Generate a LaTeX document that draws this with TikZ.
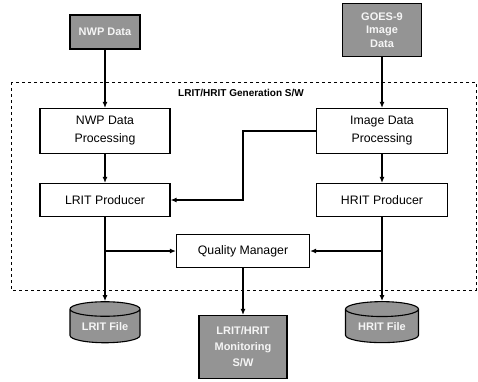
\documentclass[tikz,border=0pt]{standalone}
\usepackage{fontspec}
\setmainfont{Liberation Sans}
\usepackage{tikz}
\usetikzlibrary{arrows.meta,positioning,shapes.geometric}

\begin{document}
\begin{tikzpicture}[
  x=1pt, y=-1pt,
  proc/.style={draw, line width=1.1pt, align=center, inner sep=1pt,
               font=\fontsize{12.3}{18}\selectfont},
  ext/.style={draw, line width=1.1pt, fill=black!42, text=black!4, align=center,
              inner sep=1pt, font=\fontsize{11}{14}\selectfont\bfseries},
  store/.style={ext, cylinder, shape border rotate=90, aspect=0.3},
  arrow/.style={-{Latex[length=6pt,width=5pt]}, line width=1.8pt}
]
\useasboundingbox (0,0) rectangle (478,381);

% Generation S/W frame
\draw[dashed, line width=0.8pt] (11,82) rectangle (476,290);
\node[font=\fontsize{10}{11}\selectfont\bfseries] (title) at (241,93) {LRIT/HRIT Generation S/W};

% External inputs
\node[ext, minimum width=70pt, minimum height=34pt] (nwp) at (105,32) {NWP Data};
\node[ext, minimum width=79pt, minimum height=53pt, font=\fontsize{11}{13.5}\selectfont\bfseries] (goes) at (382,30) {GOES-9\\Image\\Data};

% Processing
\node[proc, minimum width=130pt, minimum height=45pt] (nwpproc) at (105,131) {NWP Data\\Processing};
\node[proc, minimum width=131pt, minimum height=45pt] (imgproc) at (382,131) {Image Data\\Processing};

% Producers
\node[proc, minimum width=130pt, minimum height=33pt] (lrit) at (105,200) {LRIT Producer};
\node[proc, minimum width=131pt, minimum height=33pt] (hrit) at (382,200) {HRIT Producer};

% Quality manager
\node[proc, minimum width=133pt, minimum height=33pt] (qm) at (243,251) {Quality Manager};

% Outputs
\node[store, minimum width=70pt, minimum height=41pt] (lritfile) at (105,327) {LRIT File};
\node[store, minimum width=73pt, minimum height=41pt] (hritfile) at (382,327) {HRIT File};
\node[ext, minimum width=88pt, minimum height=63pt, font=\fontsize{11}{16}\selectfont\bfseries] (mon) at (243,347) {LRIT/HRIT\\Monitoring\\S/W};

% Connectors
\draw[arrow] (nwp) -- (nwpproc);
\draw[arrow] (goes) -- (imgproc);
\draw[arrow] (nwpproc) -- (lrit);
\draw[arrow] (imgproc) -- (hrit);
\draw[arrow] (imgproc.west) -| (lrit.east -| qm.north) -- (lrit.east);

\coordinate (lbr) at (lrit.south |- qm.west);
\coordinate (hbr) at (hrit.south |- qm.east);
\draw[arrow] (lrit.south) -- (lritfile.north);
\draw[arrow] (hrit.south) -- (hritfile.north);
\draw[arrow] (lbr) -- (qm.west);
\draw[arrow] (hbr) -- (qm.east);
\draw[arrow] (qm) -- (mon);

\end{tikzpicture}
\end{document}
